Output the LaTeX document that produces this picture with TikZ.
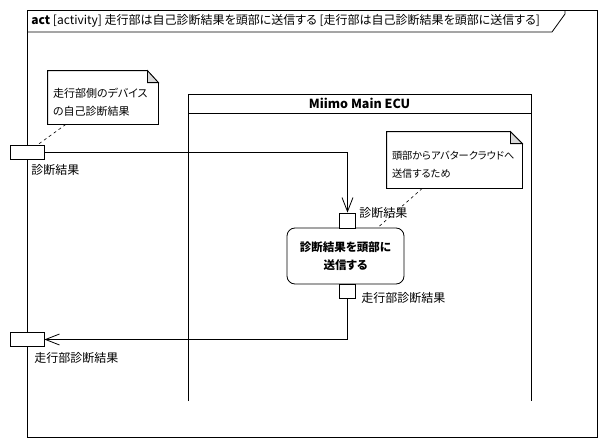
\documentclass[tikz,border=0pt]{standalone}
\usepackage{fontspec}
\setmainfont{Noto Sans CJK JP}[RawFeature=+palt]
\usetikzlibrary{arrows.meta, positioning}
\definecolor{foldgray}{RGB}{217,217,217}
\newcommand{\diagfont}{\fontsize{12}{18}\selectfont}
\newcommand{\notefont}{\fontsize{11}{18.5}\selectfont}

\begin{document}
\begin{tikzpicture}[x=1pt, y=-1pt, line width=0.8pt,
  pinbox/.style={draw, fill=white, inner sep=0pt},
  action/.style={draw, rounded corners=8pt, inner sep=0pt, align=center,
    minimum width=117pt, minimum height=56pt, font=\fontsize{11.5}{18}\selectfont\bfseries},
  notebox/.style={inner sep=0pt, minimum width=#1},
  notetext/.style={inner sep=0pt, align=left, anchor=west, font=\notefont},
  lbl/.style={font=\diagfont, inner sep=0pt, anchor=west},
  flow/.style={-{Straight Barb[length=14pt,width=11pt]}},
  notelink/.style={dash pattern=on 3pt off 3pt, line width=0.6pt}]
\useasboundingbox[fill=white] (0,0) rectangle (606,447);

% frame
\draw (27,10) rectangle (597,437);
\draw (27,32) -- (552,32) -- (565,14) -- (565,10);
\node[lbl] (title) at (31,21) {\textbf{act} [activity] 走行部は自己診断結果を頭部に送信する [走行部は自己診断結果を頭部に送信する]};

% swimlane
\draw (188,401) -- (188,94) -- (531,94) -- (531,401);
\draw (188,113) -- (531,113);
\node[font=\fontsize{12.5}{15}\selectfont\bfseries] (lane) at (359.5,103.5) {Miimo Main ECU};

% notes
\node[notebox=110pt, minimum height=53pt] (note1) at (103,97.5) {};
\node[notebox=135pt, minimum height=56pt] (note2) at (454.5,160) {};
\draw (note1.north west) -- ([xshift=-11pt]note1.north east) -- ([yshift=-12pt]note1.north east) -- (note1.south east) -- (note1.south west) -- cycle;
\draw[fill=foldgray] ([xshift=-11pt]note1.north east) |- ([yshift=-12pt]note1.north east) -- cycle;
\draw (note2.north west) -- ([xshift=-12pt]note2.north east) -- ([yshift=-12pt]note2.north east) -- (note2.south east) -- (note2.south west) -- cycle;
\draw[fill=foldgray] ([xshift=-12pt]note2.north east) |- ([yshift=-12pt]note2.north east) -- cycle;
\node[notetext] (note1txt) at ([xshift=5pt,yshift=-5pt]note1.west) {走行部側のデバイス\\の自己診断結果};
\node[notetext, font=\fontsize{10.2}{18}\selectfont] (note2txt) at ([xshift=5pt,yshift=-5pt]note2.west) {頭部からアバタークラウドへ\\送信するため};

% action and pins
\node[action] (act) at (345.5,256) {診断結果を頭部に\\送信する};
\node[pinbox, minimum width=16pt, minimum height=15pt] (inpin) at (347.5,220.5) {};
\node[pinbox, minimum width=16pt, minimum height=14pt] (outpin) at (347.5,291) {};
\node[pinbox, minimum width=34pt, minimum height=14pt] (pin1) at (27,152.5) {};
\node[pinbox, minimum width=34pt, minimum height=14pt] (pin2) at (27,339.5) {};

\node[lbl] (pin1lbl) at (31,170) {診断結果};
\node[lbl] (pin2lbl) at (34,358) {走行部診断結果};
\node[lbl] (inlbl) at (359,213) {診断結果};
\node[lbl] (outlbl) at (361,298) {走行部診断結果};

% flows
\draw[flow] (pin1.east) -| (inpin.north);
\draw[flow] (outpin.south) |- (pin2.east);
\draw[notelink] (note1) -- (pin1);
\draw[notelink] (note2) -- (act);
\end{tikzpicture}
\end{document}
